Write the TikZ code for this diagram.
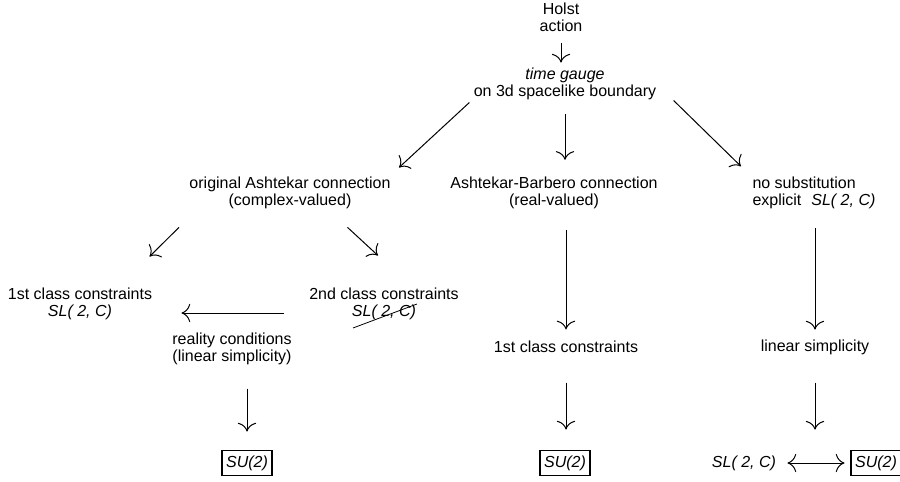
\documentclass[tikz,border=0pt]{standalone}
\usepackage{fontspec}
\setmainfont{Liberation Sans}
\usetikzlibrary{arrows.meta}
\tikzset{
  txt/.style={inner sep=0pt, align=center, font=\fontsize{16}{17}\selectfont},
  boxed/.style={txt, draw, line width=1.3pt, inner xsep=4pt, inner ysep=5pt},
}
\begin{document}
\begin{tikzpicture}[x=1pt,y=-1pt,line width=1pt,>={To[scale=2.3]}]
\useasboundingbox (0,0) rectangle (900,482);
\node[txt] (holst) at (561,17) {Holst\\action};
\node[txt] (gauge) at (565,83.5) {\textit{time gauge}\\on 3d spacelike boundary};
\node[txt] (orig) at (290,193.3) {original Ashtekar connection\\(complex-valued)};
\node[txt] (ab) at (554,193.3) {Ashtekar-Barbero connection\\(real-valued)};
\node[txt,anchor=west,align=left] (nosub) at (752,193.3) {no substitution\\explicit\hspace{10pt}\textit{SL( 2, C)}};
\node[txt] (fc1) at (80,303.5) {1st class constraints\\\textit{SL( 2, C)}};
\node[txt] (sc2) at (384,303.5) {2nd class constraints\\\textit{SL( 2, C)}};
\node[txt] (real) at (232,348.5) {reality conditions\\(linear simplicity)};
\node[txt] (fc) at (566,346.3) {1st class constraints};
\node[txt] (lin) at (815,347) {linear simplicity};
\node[boxed] (su1) at (247,463) {\textit{SU(2)}};
\node[boxed] (su2) at (565,463) {\textit{SU(2)}};
\node[txt,inner xsep=4pt,inner ysep=5pt] (sl) at (744,463) {\textit{SL( 2, C)}};
\node[boxed] (su3) at (876,463) {\textit{SU(2)}};

\draw[->,shorten <=11pt,shorten >=4.5pt] (holst.south) -- (holst.south |- gauge.north);
\draw[->] ([xshift=-4pt,yshift=-2.6pt]gauge.south west) -- ([xshift=8pt,yshift=9.3pt]orig.north east);
\draw[->,shorten <=14pt,shorten >=17pt] (gauge.south) -- (gauge.south |- ab.north);
\draw[->] ([xshift=17pt,yshift=-0.6pt]gauge.south east) -- ([xshift=-11pt,yshift=10.5pt]nosub.north west);

\draw[->] ([xshift=-10pt,yshift=-17.6pt]orig.south west) -- ([xshift=-3pt,yshift=30.5pt]fc1.north east);
\draw[->] ([xshift=-43.5pt,yshift=-17.6pt]orig.south east) -- ([xshift=-6pt,yshift=31.5pt]sc2.north);
\draw[->,shorten <=20.6pt,shorten >=10.5pt] (fc.north |- ab.south) -- (fc.north);
\draw[->,shorten <=18.6pt,shorten >=9.5pt] (lin.north |- nosub.south) -- (lin.north);

\draw[->] ([xshift=-25pt,yshift=-9.5pt]sc2.west) -- ([xshift=29pt,yshift=-9.5pt]fc1.east);
\draw[line width=0.8pt] ([xshift=-31pt,yshift=-24.5pt]sc2.center) -- ([xshift=33pt,yshift=-0.5pt]sc2.center);

\draw[->,shorten <=23.6pt,shorten >=18.4pt] (su1.north |- real.south) -- (su1.north);
\draw[->,shorten <=30pt,shorten >=20.4pt] (fc.south) -- (fc.south |- su2.north);
\draw[->,shorten <=27.6pt,shorten >=20.4pt] (lin.south) -- (lin.south |- sl.north);
\draw[<->,shorten <=7pt,shorten >=6pt] (sl.east) -- (su3.west);
\end{tikzpicture}
\end{document}
